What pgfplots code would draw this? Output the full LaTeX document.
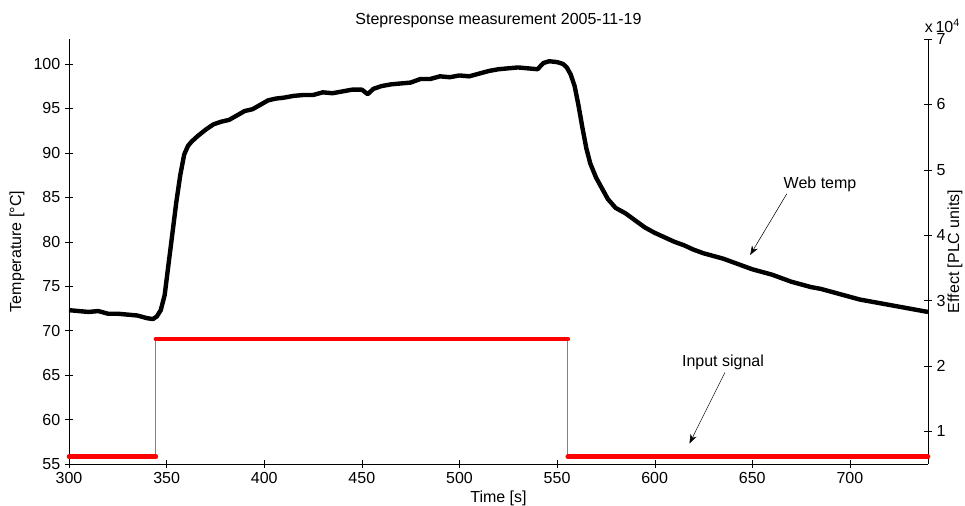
\documentclass[border=0pt]{standalone}
\usepackage{fontspec}
\setmainfont{Liberation Sans}
\usepackage{pgfplots}
\pgfplotsset{compat=1.18}
\usetikzlibrary{arrows.meta}
\pgfplotstableread{
t T
300 72.3
305 72.2
310 72.1
315 72.2
320 71.9
325 71.9
330 71.8
335 71.7
340 71.4
343 71.3
345 71.6
347 72.3
349 74.0
351 77.5
353 81.0
355 84.5
357 87.5
359 89.8
361 90.8
363 91.3
366 91.9
370 92.6
374 93.2
378 93.5
382 93.7
386 94.2
390 94.7
394 94.9
398 95.4
402 95.9
406 96.1
410 96.2
415 96.4
420 96.5
425 96.5
430 96.8
435 96.7
440 96.9
445 97.1
450 97.1
453 96.6
456 97.2
460 97.5
465 97.7
470 97.8
475 97.9
480 98.3
485 98.3
490 98.6
495 98.5
500 98.7
505 98.6
510 98.9
515 99.2
520 99.4
525 99.5
530 99.6
535 99.5
540 99.4
543 100.1
546 100.3
550 100.2
553 100.0
555 99.6
557 98.8
559 97.5
561 95.3
563 92.8
565 90.5
567 88.8
570 87.2
573 86.0
576 84.8
580 83.8
585 83.2
590 82.4
595 81.6
600 81.0
605 80.5
610 80.0
615 79.6
620 79.1
625 78.7
630 78.4
635 78.1
640 77.7
645 77.3
650 76.9
655 76.6
660 76.3
665 75.9
670 75.5
675 75.2
680 74.9
685 74.7
690 74.4
695 74.1
700 73.8
705 73.5
710 73.3
715 73.1
720 72.9
725 72.7
730 72.5
735 72.3
740 72.1
}\webtemp
\begin{document}
\begin{tikzpicture}
\path[use as bounding box] (-51.75pt,-31.5pt) rectangle (672pt,348pt);
\pgfplotsset{
  every axis/.append style={
    at={(0,0)}, anchor=south west, scale only axis,
    width=644.25pt, height=318.75pt,
    xmin=300, xmax=740,
    tick align=inside, major tick length=6pt,
    tick style={black},
    /pgf/number format/assume math mode=true,
    ticklabel style={font=\fontsize{12}{14}\selectfont},
    label style={font=\fontsize{12}{14}\selectfont},
  }
}
\begin{axis}[
  ymin=55, ymax=102.8,
  axis x line=bottom, axis y line=left,
  x axis line style={-, black}, y axis line style={-, black},
  xtick={300,350,...,700}, ytick={55,60,...,100},
  xlabel={Time [s]}, ylabel={Temperature [°C]},
  xlabel style={yshift=2pt},
  clip=false,
]
\addplot[black, line width=3.3pt, line join=round] table[x=t,y=T] {\webtemp};
\node[anchor=base, font=\fontsize{12}{14}\selectfont] at (rel axis cs:0.5,1) [yshift=10.5pt] {Stepresponse measurement 2005-11-19};
\node[font=\fontsize{12}{14}\selectfont] at (axis cs:684.7,86.4) {Web temp};
\draw[-{Stealth[length=7pt,width=5pt]}, thin] (axis cs:667.7,85.4) -- (axis cs:648.9,78.5);
\node[font=\fontsize{12}{14}\selectfont] at (axis cs:635,66.4) {Input signal};
\draw[-{Stealth[length=7pt,width=5pt]}, thin] (axis cs:636,65.3) -- (axis cs:617.8,57.3);
\end{axis}
\begin{axis}[
  ymin=5000, ymax=70000,
  axis x line=none, axis y line=right,
  y axis line style={-, black},
  scaled y ticks=false,
  ytick={10000,20000,...,70000}, yticklabels={1,2,3,4,5,6,7},
  clip=false,
]
\addplot[red!70, line width=0.8pt] coordinates {(300,6100) (344.5,6100) (344.5,24100) (555.5,24100) (555.5,6100) (740,6100)};
\addplot[red, line width=3.5pt, line cap=round] coordinates {(300,6100) (344.5,6100)};
\addplot[red, line width=3.5pt, line cap=round] coordinates {(344.5,24100) (555.5,24100)};
\addplot[red, line width=3.5pt, line cap=round] coordinates {(555.5,6100) (740,6100)};
\node[anchor=base west, font=\fontsize{12}{14}\selectfont, inner sep=0pt] at (rel axis cs:1,1) [xshift=-2.5pt, yshift=5pt] {x\,10\textsuperscript{4}};
\path (rel axis cs:1,0.5) ++(20.25pt,0pt) node[rotate=90, anchor=center, font=\fontsize{12}{14}\selectfont, inner sep=0pt] {Effect [PLC units]};
\end{axis}
\end{tikzpicture}
\end{document}
